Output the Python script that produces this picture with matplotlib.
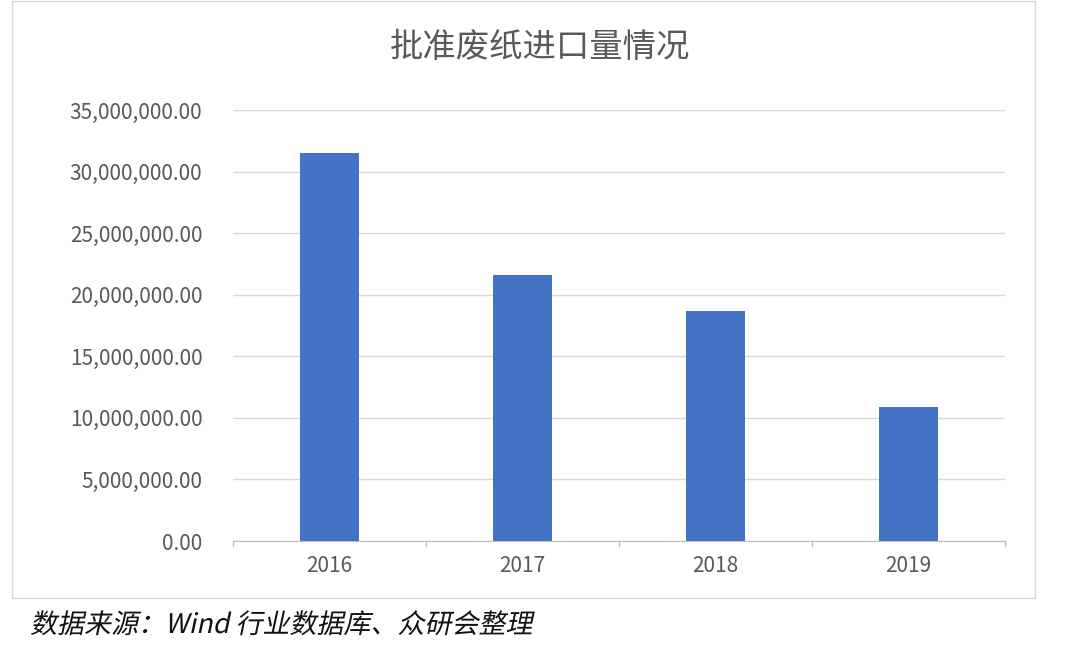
import matplotlib
matplotlib.use("Agg")
import matplotlib.pyplot as plt
from matplotlib.patches import Rectangle, PathPatch
from matplotlib.textpath import TextPath
from matplotlib.font_manager import FontProperties
from matplotlib.transforms import Affine2D

plt.rcParams['font.family'] = ['Noto Sans CJK SC', 'DejaVu Sans']

years = ['2016', '2017', '2018', '2019']
values = [31500000, 21600000, 18700000, 10880000]
yticks = [0, 5e6, 10e6, 15e6, 20e6, 25e6, 30e6, 35e6]
footer = '数据来源：Wind 行业数据库、众研会整理'

fig = plt.figure(figsize=(10.8, 6.46), dpi=100)
fig.patches.append(Rectangle((12/1080, 1-598/646), 1023/1080, 597/646, transform=fig.transFigure,
                             fill=False, edgecolor='#d9d9d9', linewidth=1))
ax = fig.add_axes([233/1080, 1-541/646, 772/1080, 431/646])
x = range(len(years))
ax.bar(x, values, width=0.31, color='#4472c4', zorder=3)
ax.set_xlim(-0.5, 3.5)
ax.set_ylim(0, 35e6)
ax.set_yticks(yticks)
ax.set_yticklabels([f"{v:,.2f}" for v in yticks], fontsize=15, color='#595959')
ax.set_xticks(list(x))
ax.set_xticklabels(years, fontsize=15, color='#595959')
ax.grid(axis='y', color='#d9d9d9', linewidth=1, zorder=0)
for s in ['top', 'right', 'left']:
    ax.spines[s].set_visible(False)
ax.spines['bottom'].set_color('#bfbfbf')
ax.tick_params(axis='y', length=0, pad=22)
ax.tick_params(axis='x', length=0, pad=10)
for b in [-0.5, 0.5, 1.5, 2.5, 3.5]:
    ax.plot([b, b], [0, -0.012], transform=ax.get_xaxis_transform(), color='#bfbfbf', lw=1, clip_on=False)
fig.text(540/1080, 1-48/646, '批准废纸进口量情况', ha='center', va='center', fontsize=24, color='#595959')

# italic (skewed) footer
fp = FontProperties(family=['Noto Sans CJK SC', 'DejaVu Sans'])
tp = TextPath((0, 0), footer, size=27, prop=fp)
tr = Affine2D().skew_deg(12, 0).translate(30, 646 - 633)
patch = PathPatch(tr.transform_path(tp), facecolor='#111111', edgecolor='none',
                  transform=fig.dpi_scale_trans + Affine2D())
patch.set_transform(Affine2D().scale(1) + matplotlib.transforms.IdentityTransform())
fig.patches.append(patch)
fig.savefig('out.png', dpi=100)
